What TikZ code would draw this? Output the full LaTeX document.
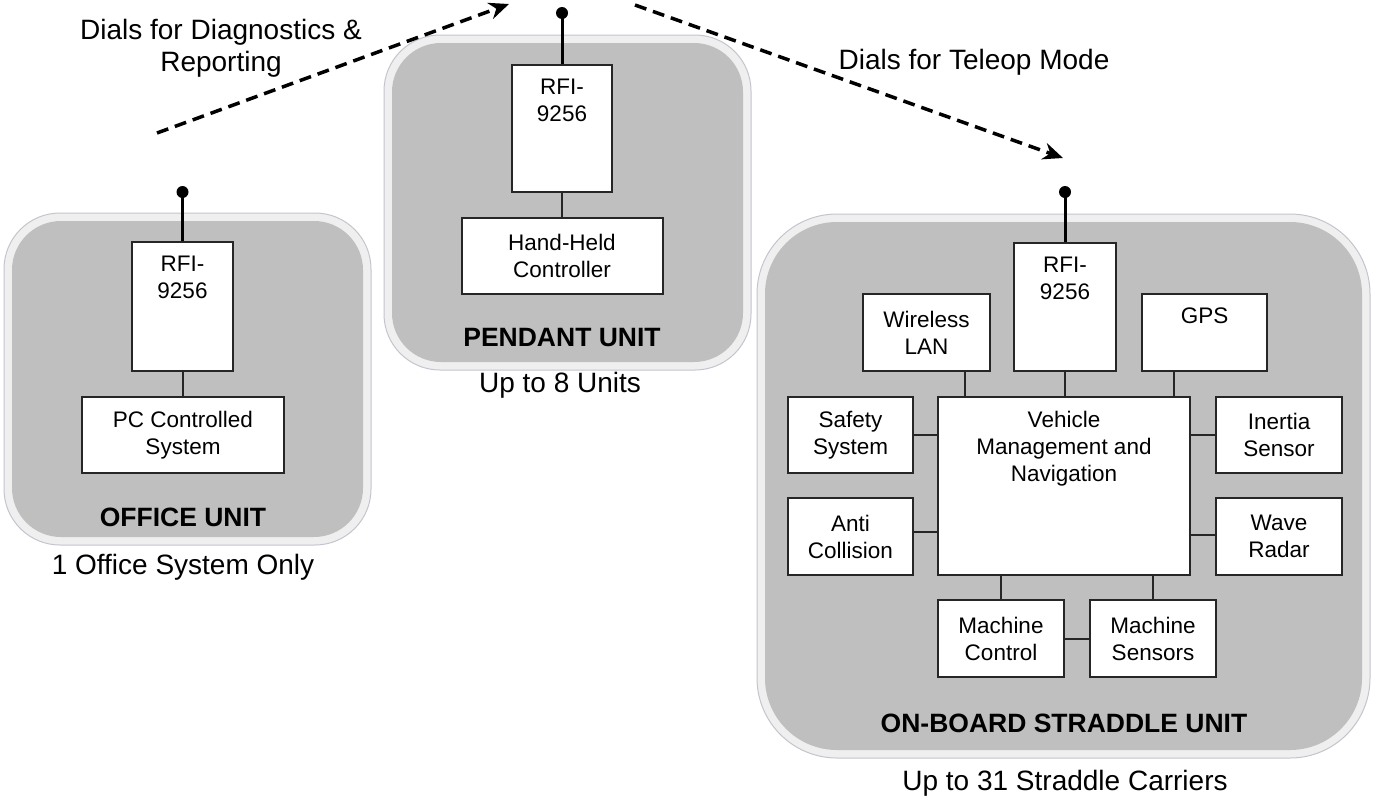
\documentclass[tikz,border=0pt]{standalone}
\usepackage{fontspec}
\setmainfont{Liberation Sans}
\usetikzlibrary{calc,arrows.meta}
\definecolor{unitgray}{HTML}{BFBFBF}
\definecolor{unitrim}{HTML}{EFEFEF}
\definecolor{unitedge}{HTML}{C4C4CE}
\newcommand\bxfont{\fontsize{22.5}{27}\selectfont}
\newcommand\lblfont{\fontsize{28}{32}\selectfont}
\newcommand\ttlfont{\fontsize{26.5}{32}\selectfont\bfseries}
\begin{document}
\begin{tikzpicture}[x=1pt,y=-1pt,
  unitouter/.style={draw=unitedge, line width=1pt, fill=unitrim, inner sep=0pt},
  unitinner/.style={fill=unitgray, inner sep=0pt},
  blk/.style={draw=black!85, line width=2pt, fill=white, inner sep=0pt, align=center, font=\bxfont},
  blktxt/.style={inner sep=0pt, align=center, font=\bxfont, anchor=north},
  wire/.style={draw=black!85, line width=2pt},
  antenna/.style={draw=black, line width=3pt},
  antdot/.style={fill=black, circle, inner sep=0pt, minimum size=12pt},
  dial/.style={draw=black, line width=3.5pt, dash pattern=on 12pt off 7pt, -{Stealth[length=20pt,width=17pt]}},
  lbl/.style={inner sep=0pt, align=center, font=\lblfont},
  ttl/.style={inner sep=0pt, align=center, font=\ttlfont}]
\useasboundingbox (0,0) rectangle (1378,801);

% ---------- unit backgrounds ----------
\node[unitouter, rounded corners=56pt, minimum width=367pt, minimum height=332pt] (oOut) at (187.5,379) {};
\node[unitinner, rounded corners=49pt, minimum width=351pt, minimum height=316pt] (oIn) at (187.5,379) {};
\node[unitouter, rounded corners=56pt, minimum width=367pt, minimum height=335pt] (pOut) at (567.5,202.5) {};
\node[unitinner, rounded corners=49pt, minimum width=351pt, minimum height=319pt] (pIn) at (567.5,202.5) {};
\node[unitouter, rounded corners=80pt, minimum width=613pt, minimum height=544pt] (sOut) at (1063.5,486) {};
\node[unitinner, rounded corners=72pt, minimum width=597pt, minimum height=528pt] (sIn) at (1063.5,486) {};

% ---------- office unit ----------
\node[blk, minimum width=101pt, minimum height=129pt] (oRFI) at (182.5,306.5) {};
\node[blktxt] (oRFIt) at ($(oRFI.north)+(0,15)$) {RFI-\\9256};
\node[blk, minimum width=202pt, minimum height=76pt] (oPC) at (183,435) {PC Controlled\\System};
\draw[wire] (oRFI.south) -- (oRFI.south |- oPC.north);
\coordinate (oAnt) at (182.5,192);
\draw[antenna] (oRFI.north) -- (oAnt);
\node[antdot] (oDot) at (oAnt) {};
\node[ttl] (oTtl) at (183,517) {OFFICE UNIT};
\node[lbl] (oSub) at (183,567) {1 Office System Only};

% ---------- pendant unit ----------
\node[blk, minimum width=100pt, minimum height=127pt] (pRFI) at (562,128.5) {};
\node[blktxt] (pRFIt) at ($(pRFI.north)+(0,15)$) {RFI-\\9256};
\node[blk, minimum width=201pt, minimum height=76pt] (pHH) at (562,256) {Hand-Held\\Controller};
\draw[wire] (pRFI.south) -- (pHH.north);
\coordinate (pAnt) at (562,13);
\draw[antenna] (pRFI.north) -- (pAnt);
\node[antdot] (pDot) at (pAnt) {};
\node[ttl] (pTtl) at (562,338) {PENDANT UNIT};
\node[lbl] (pSub) at (560,385) {Up to 8 Units};

% ---------- on-board straddle unit ----------
\node[blk, minimum width=102pt, minimum height=128pt] (sRFI) at (1065,307) {};
\node[blktxt] (sRFIt) at ($(sRFI.north)+(0,15)$) {RFI-\\9256};
\node[blk, minimum width=127pt, minimum height=77pt] (WL) at (926.5,332.5) {Wireless\\LAN};
\node[blk, minimum width=125pt, minimum height=77pt] (GPS) at (1204.5,332.5) {};
\node[blktxt] (GPSt) at ($(GPS.north)+(0,15)$) {GPS};
\node[blk, minimum width=252pt, minimum height=178pt] (VM) at (1064,486) {};
\node[blktxt] (VMt) at ($(VM.north)+(0,15)$) {Vehicle\\Management and\\Navigation};
\node[blk, minimum width=125pt, minimum height=76pt] (SS) at (850.5,435) {Safety\\System};
\node[blk, minimum width=125pt, minimum height=77pt] (AC) at (850.5,536.5) {Anti\\Collision};
\node[blk, minimum width=126pt, minimum height=76pt] (IS) at (1279,435) {Inertia\\Sensor};
\node[blk, minimum width=126pt, minimum height=77pt] (WR) at (1279,536.5) {Wave\\Radar};
\node[blk, minimum width=126pt, minimum height=77pt] (MC) at (1001,638.5) {Machine\\Control};
\node[blk, minimum width=126pt, minimum height=77pt] (MS) at (1153,638.5) {Machine\\Sensors};

\coordinate (wlc) at ($(WL.south)+(38.5,0)$);
\coordinate (gpc) at ($(GPS.south)+(-30.5,0)$);
\coordinate (acc) at ($(AC.east)+(0,-5)$);
\coordinate (wrc) at ($(WR.west)+(0,-2)$);
\draw[wire] (wlc) -- (wlc |- VM.north);
\draw[wire] (sRFI.south) -- (sRFI.south |- VM.north);
\draw[wire] (gpc) -- (gpc |- VM.north);
\draw[wire] (SS.east) -- (SS.east -| VM.west);
\draw[wire] (acc) -- (acc -| VM.west);
\draw[wire] (IS.west) -- (IS.west -| VM.east);
\draw[wire] (wrc) -- (wrc -| VM.east);
\draw[wire] (MC.north) -- (MC.north |- VM.south);
\draw[wire] (MS.north) -- (MS.north |- VM.south);
\draw[wire] (MC.east) -- (MS.west);
\coordinate (sAnt) at (1065,192);
\draw[antenna] (sRFI.north) -- (sAnt);
\node[antdot] (sDot) at (sAnt) {};
\node[ttl] (sTtl) at (1064,723) {ON-BOARD STRADDLE UNIT};
\node[lbl] (sSub) at (1065,783) {Up to 31 Straddle Carriers};

% ---------- dial arrows ----------
\coordinate (d1s) at (157,133);
\coordinate (d1e) at (509,4);
\coordinate (d2s) at (635,5);
\coordinate (d2e) at (1063,158);
\draw[dial] (d1s) -- (d1e);
\draw[dial] (d2s) -- (d2e);
\node[lbl] (d1l) at (221,48) {Dials for Diagnostics \&\\Reporting};
\node[lbl] (d2l) at (974,62) {Dials for Teleop Mode};
\end{tikzpicture}
\end{document}
